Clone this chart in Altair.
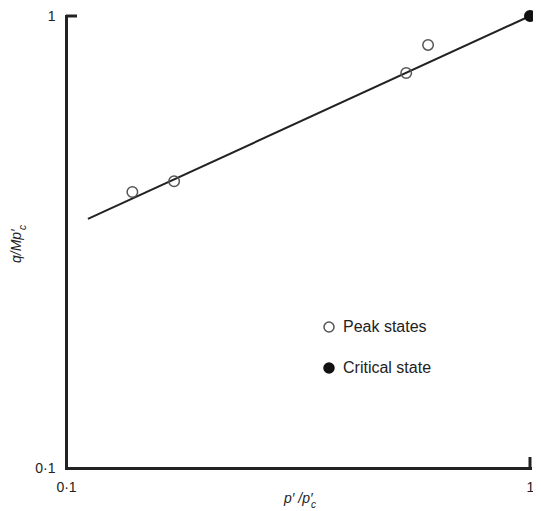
import altair as alt
import pandas as pd

# ---- data ----
peak_x = [0.139, 0.171, 0.541, 0.603]
peak_y = [0.408, 0.431, 0.748, 0.863]
crit_x = [1.0]
crit_y = [1.0]
line_x = [0.1115, 1.0]
line_y = [0.3556, 1.0]
states = ["Peak states", "Critical state"]
tick_values = [0.1, 1]

FONT = "Liberation Sans, Arial, sans-serif"
INK = "#222222"

pts = pd.DataFrame({
    "x": peak_x + crit_x,
    "y": peak_y + crit_y,
    "state": [states[0]] * len(peak_x) + [states[1]] * len(crit_x),
})
fit = pd.DataFrame({"x": line_x, "y": line_y})

xscale = alt.Scale(type="log", domain=[0.1, 1], nice=False)
yscale = alt.Scale(type="log", domain=[0.1, 1], nice=False)
label_expr = "datum.value < 0.5 ? '0·1' : '1'"

xaxis = alt.Axis(values=tick_values, labelExpr=label_expr, title=None,
                 labelPadding=12, labelFlush=False)
yaxis = alt.Axis(values=tick_values, labelExpr=label_expr, title=None,
                 labelPadding=11, labelFlush=False)

line = alt.Chart(fit).mark_line(color=INK, strokeWidth=2).encode(
    x=alt.X("x:Q", scale=xscale, axis=xaxis),
    y=alt.Y("y:Q", scale=yscale, axis=yaxis),
)

legend = alt.Legend(
    orient="none", legendX=255, legendY=303, title=None,
    labelFontSize=16, labelFont=FONT, labelColor=INK,
    symbolSize=100, symbolStrokeWidth=1.5, rowPadding=25,
    labelOffset=6, padding=0,
)

points = alt.Chart(pts).mark_point(shape="circle", size=110, strokeWidth=1.5,
                                   opacity=1, clip=False).encode(
    x=alt.X("x:Q", scale=xscale),
    y=alt.Y("y:Q", scale=yscale),
    fill=alt.Fill("state:N", sort=states,
                  scale=alt.Scale(domain=states, range=["transparent", "#111111"]),
                  legend=legend),
    stroke=alt.Stroke("state:N", sort=states,
                      scale=alt.Scale(domain=states, range=["#555555", "#111111"]),
                      legend=legend),
)

tick_top = alt.Chart(pd.DataFrame({"v": [1]})).mark_rule(color=INK, strokeWidth=3).encode(
    x=alt.value(0), x2=alt.value(11), y=alt.Y("v:Q", scale=yscale)
)
tick_right = alt.Chart(pd.DataFrame({"v": [1]})).mark_rule(color=INK, strokeWidth=3).encode(
    x=alt.X("v:Q", scale=xscale), y=alt.value(452), y2=alt.value(441)
)

xt_main = alt.Chart(pd.DataFrame({"t": ["p′ /p′"]})).mark_text(
    font=FONT, fontSize=14, fontStyle="italic", color=INK, align="left",
    baseline="alphabetic").encode(x=alt.value(218), y=alt.value(487), text="t:N")
xt_sub = alt.Chart(pd.DataFrame({"t": ["c"]})).mark_text(
    font=FONT, fontSize=10, fontStyle="italic", color=INK, align="left",
    baseline="alphabetic").encode(x=alt.value(245), y=alt.value(492), text="t:N")

yt_main = alt.Chart(pd.DataFrame({"t": ["q/Mp′"]})).mark_text(
    font=FONT, fontSize=14, fontStyle="italic", color=INK, align="left",
    baseline="alphabetic", angle=270).encode(x=alt.value(-45), y=alt.value(247), text="t:N")
yt_sub = alt.Chart(pd.DataFrame({"t": ["c"]})).mark_text(
    font=FONT, fontSize=10, fontStyle="italic", color=INK, align="left",
    baseline="alphabetic", angle=270).encode(x=alt.value(-40), y=alt.value(214), text="t:N")

chart = alt.layer(line, points, tick_top, tick_right, xt_main, xt_sub, yt_main, yt_sub).properties(
    width=464, height=452,
    autosize=alt.AutoSizeParams(type="none"),
    padding={"left": 58, "top": 8, "right": 3, "bottom": 42},
).configure_view(strokeWidth=0).configure_axis(
    domainWidth=3, domainColor=INK, domainCap="square", ticks=False, grid=False,
    labelFont=FONT, labelFontSize=14, labelColor=INK,
)

chart.save("out.html", embed_options={"renderer": "svg", "actions": False})
